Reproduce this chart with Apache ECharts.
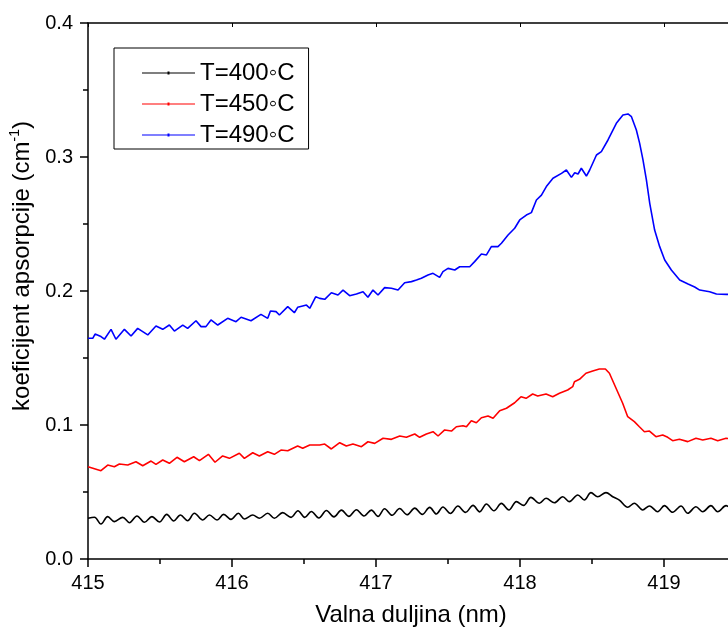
<!DOCTYPE html>
<html><head><meta charset="utf-8">
<script src="https://cdn.jsdelivr.net/npm/echarts@6/dist/echarts.min.js"></script>
<style>html,body{margin:0;padding:0;background:#fff}#c{width:728px;height:634px}</style>
</head><body><div id="c"></div>
<script>
const seriesNames = ['T=400\u25E6C', 'T=450\u25E6C', 'T=490\u25E6C'];
const xTickLabels = ['415', '416', '417', '418', '419', '420'];
const yTickLabels = ['0.0', '0.1', '0.2', '0.3', '0.4'];

const blackX = [415.000,415.045,415.090,415.137,415.183,415.241,415.288,415.340,415.392,415.444,415.496,415.547,415.595,415.642,415.692,415.739,415.797,415.843,415.896,415.942,415.993,416.044,416.086,416.144,416.190,416.248,416.294,416.352,416.410,416.458,416.505,416.551,416.603,416.656,416.708,416.760,416.812,416.864,416.916,416.968,417.014,417.060,417.112,417.164,417.216,417.269,417.321,417.373,417.419,417.465,417.517,417.569,417.621,417.674,417.720,417.767,417.819,417.871,417.923,417.975,418.025,418.076,418.135,418.181,418.239,418.297,418.343,418.401,418.447,418.493,418.540,418.597,418.644,418.690,418.748,418.794,418.852,418.899,418.956,419.003,419.060,419.118,419.165,419.222,419.269,419.326,419.373,419.431,419.480];
const blackY = [0.0304,0.0312,0.0261,0.0316,0.0279,0.0311,0.0271,0.0321,0.0274,0.0316,0.0276,0.0333,0.0284,0.0328,0.0286,0.0341,0.0291,0.0328,0.0291,0.0333,0.0296,0.0341,0.0299,0.0328,0.0304,0.0341,0.0304,0.0346,0.0311,0.0360,0.0311,0.0355,0.0306,0.0362,0.0314,0.0365,0.0318,0.0368,0.0321,0.0365,0.0318,0.0375,0.0326,0.0377,0.0330,0.0380,0.0333,0.0385,0.0336,0.0388,0.0340,0.0395,0.0348,0.0400,0.0352,0.0410,0.0360,0.0415,0.0366,0.0428,0.0400,0.0460,0.0416,0.0453,0.0420,0.0465,0.0428,0.0478,0.0440,0.0495,0.0465,0.0495,0.0465,0.0440,0.0386,0.0416,0.0366,0.0396,0.0353,0.0398,0.0349,0.0396,0.0341,0.0390,0.0353,0.0398,0.0353,0.0398,0.0360];

const redX = [415.000,415.090,415.137,415.183,415.218,415.276,415.333,415.380,415.438,415.472,415.519,415.565,415.618,415.669,415.734,415.774,415.836,415.882,415.935,415.982,416.051,416.086,416.144,416.190,416.248,416.294,416.340,416.387,416.456,416.491,416.540,416.609,416.644,416.690,416.748,416.794,416.840,416.899,416.944,416.991,417.049,417.107,417.165,417.211,417.269,417.303,417.350,417.396,417.431,417.477,417.524,417.558,417.604,417.628,417.662,417.697,417.732,417.778,417.813,417.859,417.906,417.963,417.984,418.007,418.042,418.088,418.123,418.181,418.227,418.274,418.331,418.366,418.378,418.413,418.458,418.505,418.551,418.593,418.621,418.667,418.713,418.748,418.794,418.829,418.864,418.899,418.944,418.991,419.026,419.060,419.107,419.165,419.222,419.269,419.326,419.373,419.431,419.490];
const redY = [0.0689,0.0659,0.0701,0.0689,0.0709,0.0701,0.0726,0.0696,0.0731,0.0706,0.0739,0.0714,0.0759,0.0726,0.0763,0.0734,0.0781,0.0722,0.0769,0.0751,0.0789,0.0751,0.0793,0.0769,0.0801,0.0781,0.0813,0.0808,0.0843,0.0826,0.0851,0.0851,0.0858,0.0821,0.0868,0.0843,0.0858,0.0838,0.0875,0.0863,0.0901,0.0893,0.0918,0.0908,0.0933,0.0908,0.0933,0.0950,0.0918,0.0963,0.0955,0.0987,0.0995,0.0987,0.1032,0.1017,0.1054,0.1067,0.1050,0.1107,0.1125,0.1166,0.1187,0.1211,0.1199,0.1231,0.1216,0.1231,0.1211,0.1237,0.1261,0.1286,0.1323,0.1341,0.1386,0.1403,0.1418,0.1418,0.1386,0.1274,0.1162,0.1062,0.1025,0.0987,0.0950,0.0955,0.0913,0.0925,0.0908,0.0883,0.0893,0.0876,0.0901,0.0888,0.0901,0.0883,0.0901,0.0895];

const blueX = [415.000,415.033,415.049,415.090,415.114,415.160,415.194,415.253,415.299,415.345,415.415,415.472,415.519,415.565,415.600,415.658,415.692,415.750,415.785,415.819,415.854,415.901,415.970,416.028,416.063,416.132,416.201,416.248,416.267,416.306,416.329,416.387,416.433,416.456,416.491,416.517,416.540,416.581,416.609,416.644,416.690,416.736,416.771,416.817,416.864,416.910,416.944,416.979,417.014,417.060,417.107,417.153,417.199,417.246,417.281,417.315,417.361,417.396,417.442,417.465,417.500,417.547,417.581,417.651,417.685,417.732,417.767,417.801,417.847,417.871,417.917,417.963,417.998,418.044,418.079,418.114,418.149,418.183,418.229,418.288,418.322,418.357,418.380,418.403,418.426,418.461,418.484,418.531,418.565,418.611,418.669,418.715,418.750,418.774,418.808,418.831,418.854,418.878,418.901,418.935,418.970,419.005,419.051,419.109,419.167,419.213,419.248,419.317,419.364,419.433,419.500];
const blueY = [0.1647,0.1647,0.1679,0.1660,0.1640,0.1714,0.1640,0.1714,0.1664,0.1721,0.1672,0.1739,0.1714,0.1746,0.1701,0.1746,0.1721,0.1778,0.1734,0.1734,0.1784,0.1746,0.1796,0.1771,0.1804,0.1778,0.1826,0.1796,0.1851,0.1846,0.1821,0.1883,0.1838,0.1878,0.1888,0.1895,0.1871,0.1957,0.1945,0.1938,0.1987,0.1970,0.2007,0.1965,0.1978,0.1995,0.1953,0.2007,0.1970,0.2025,0.2020,0.2007,0.2062,0.2070,0.2082,0.2095,0.2120,0.2132,0.2102,0.2144,0.2169,0.2157,0.2181,0.2181,0.2219,0.2276,0.2269,0.2331,0.2331,0.2356,0.2418,0.2468,0.2530,0.2567,0.2585,0.2679,0.2716,0.2779,0.2841,0.2878,0.2903,0.2848,0.2883,0.2873,0.2916,0.2858,0.2903,0.3015,0.3040,0.3127,0.3251,0.3313,0.3321,0.3301,0.3201,0.3102,0.2978,0.2828,0.2654,0.2455,0.2331,0.2231,0.2157,0.2082,0.2052,0.2030,0.2007,0.1995,0.1978,0.1975,0.1972];

const seriesColors = ['#000000', '#ff0000', '#0000ff'];
const seriesSmooth = [0.35, false, false];

function zip(xs, ys) { return xs.map((x, i) => [x, ys[i]]); }

const FONT = '"Liberation Sans", Arial, sans-serif';
const chart = echarts.init(document.getElementById('c'), null, {renderer: 'canvas'});

const axisLineStyle = {color: '#000', width: 1.5};
const legendIcon = 'path://M0,1 L53,1 L53,2 L0,2 Z M25.5,0 L27.5,0 L27.5,3 L25.5,3 Z';

const option = {
  animation: false,
  backgroundColor: '#ffffff',
  grid: {left: 88, top: 23, width: 720, height: 536, containLabel: false, outerBoundsMode: 'none'},
  legend: {
    orient: 'vertical', left: 114, top: 48,
    padding: [13, 14, 2, 28], itemGap: 7, itemWidth: 53, itemHeight: 3,
    borderColor: '#000', borderWidth: 1, backgroundColor: '#fff',
    textStyle: {fontSize: 24, color: '#000', fontFamily: FONT},
    data: seriesNames.map(n => ({name: n, icon: legendIcon}))
  },
  xAxis: [{
    type: 'value', min: 415, max: 420, interval: 1, position: 'bottom',
    axisLine: {onZero: false, lineStyle: axisLineStyle},
    axisTick: {inside: false, length: 8, lineStyle: axisLineStyle},
    minorTick: {show: true, splitNumber: 2, length: 5, lineStyle: axisLineStyle},
    splitLine: {show: false},
    axisLabel: {margin: 14, fontSize: 20, color: '#000', fontFamily: FONT,
      formatter: v => xTickLabels[Math.round(v - 415)] || ''},
    name: 'Valna duljina (nm)', nameLocation: 'middle', nameGap: 44,
    nameTextStyle: {fontSize: 24, color: '#000', fontFamily: FONT, padding: [0, 74, 0, 0]}
  }, {
    type: 'value', min: 415, max: 420, interval: 1, position: 'top',
    axisLine: {onZero: false, lineStyle: axisLineStyle},
    axisTick: {inside: true, length: 4, lineStyle: {color: '#000', width: 1}},
    minorTick: {show: false},
    splitLine: {show: false},
    axisLabel: {show: false}
  }],
  yAxis: [{
    type: 'value', min: 0, max: 0.4, interval: 0.1,
    axisLine: {show: true, onZero: false, lineStyle: axisLineStyle},
    axisTick: {show: true, inside: false, length: 8, lineStyle: axisLineStyle},
    minorTick: {show: true, splitNumber: 2, length: 5, lineStyle: axisLineStyle},
    splitLine: {show: false},
    axisLabel: {margin: 15, fontSize: 20, color: '#000', fontFamily: FONT,
      formatter: v => yTickLabels[Math.round(v * 10)] || ''},
    name: '{a|koeficijent apsorpcije (cm}{s|-1}{a|)}', nameLocation: 'middle', nameGap: 38,
    nameTextStyle: {
      color: '#000', fontFamily: FONT, fontSize: 24, padding: [0, 0, 0, 50],
      rich: {
        a: {fontSize: 24, color: '#000', fontFamily: FONT, lineHeight: 28},
        s: {fontSize: 14, color: '#000', fontFamily: FONT, verticalAlign: 'top', lineHeight: 28, padding: [0, 0, 12, 0]}
      }
    }
  }],
  series: seriesNames.map((n, i) => ({
    name: n, type: 'line', symbol: 'none', showSymbol: false,
    xAxisIndex: 0, yAxisIndex: 0,
    smooth: seriesSmooth[i],
    data: zip([blackX, redX, blueX][i], [blackY, redY, blueY][i]),
    lineStyle: {color: seriesColors[i], width: 1.6},
    itemStyle: {color: seriesColors[i]},
    silent: true
  }))
};
chart.setOption(option);
</script>
</body></html>
